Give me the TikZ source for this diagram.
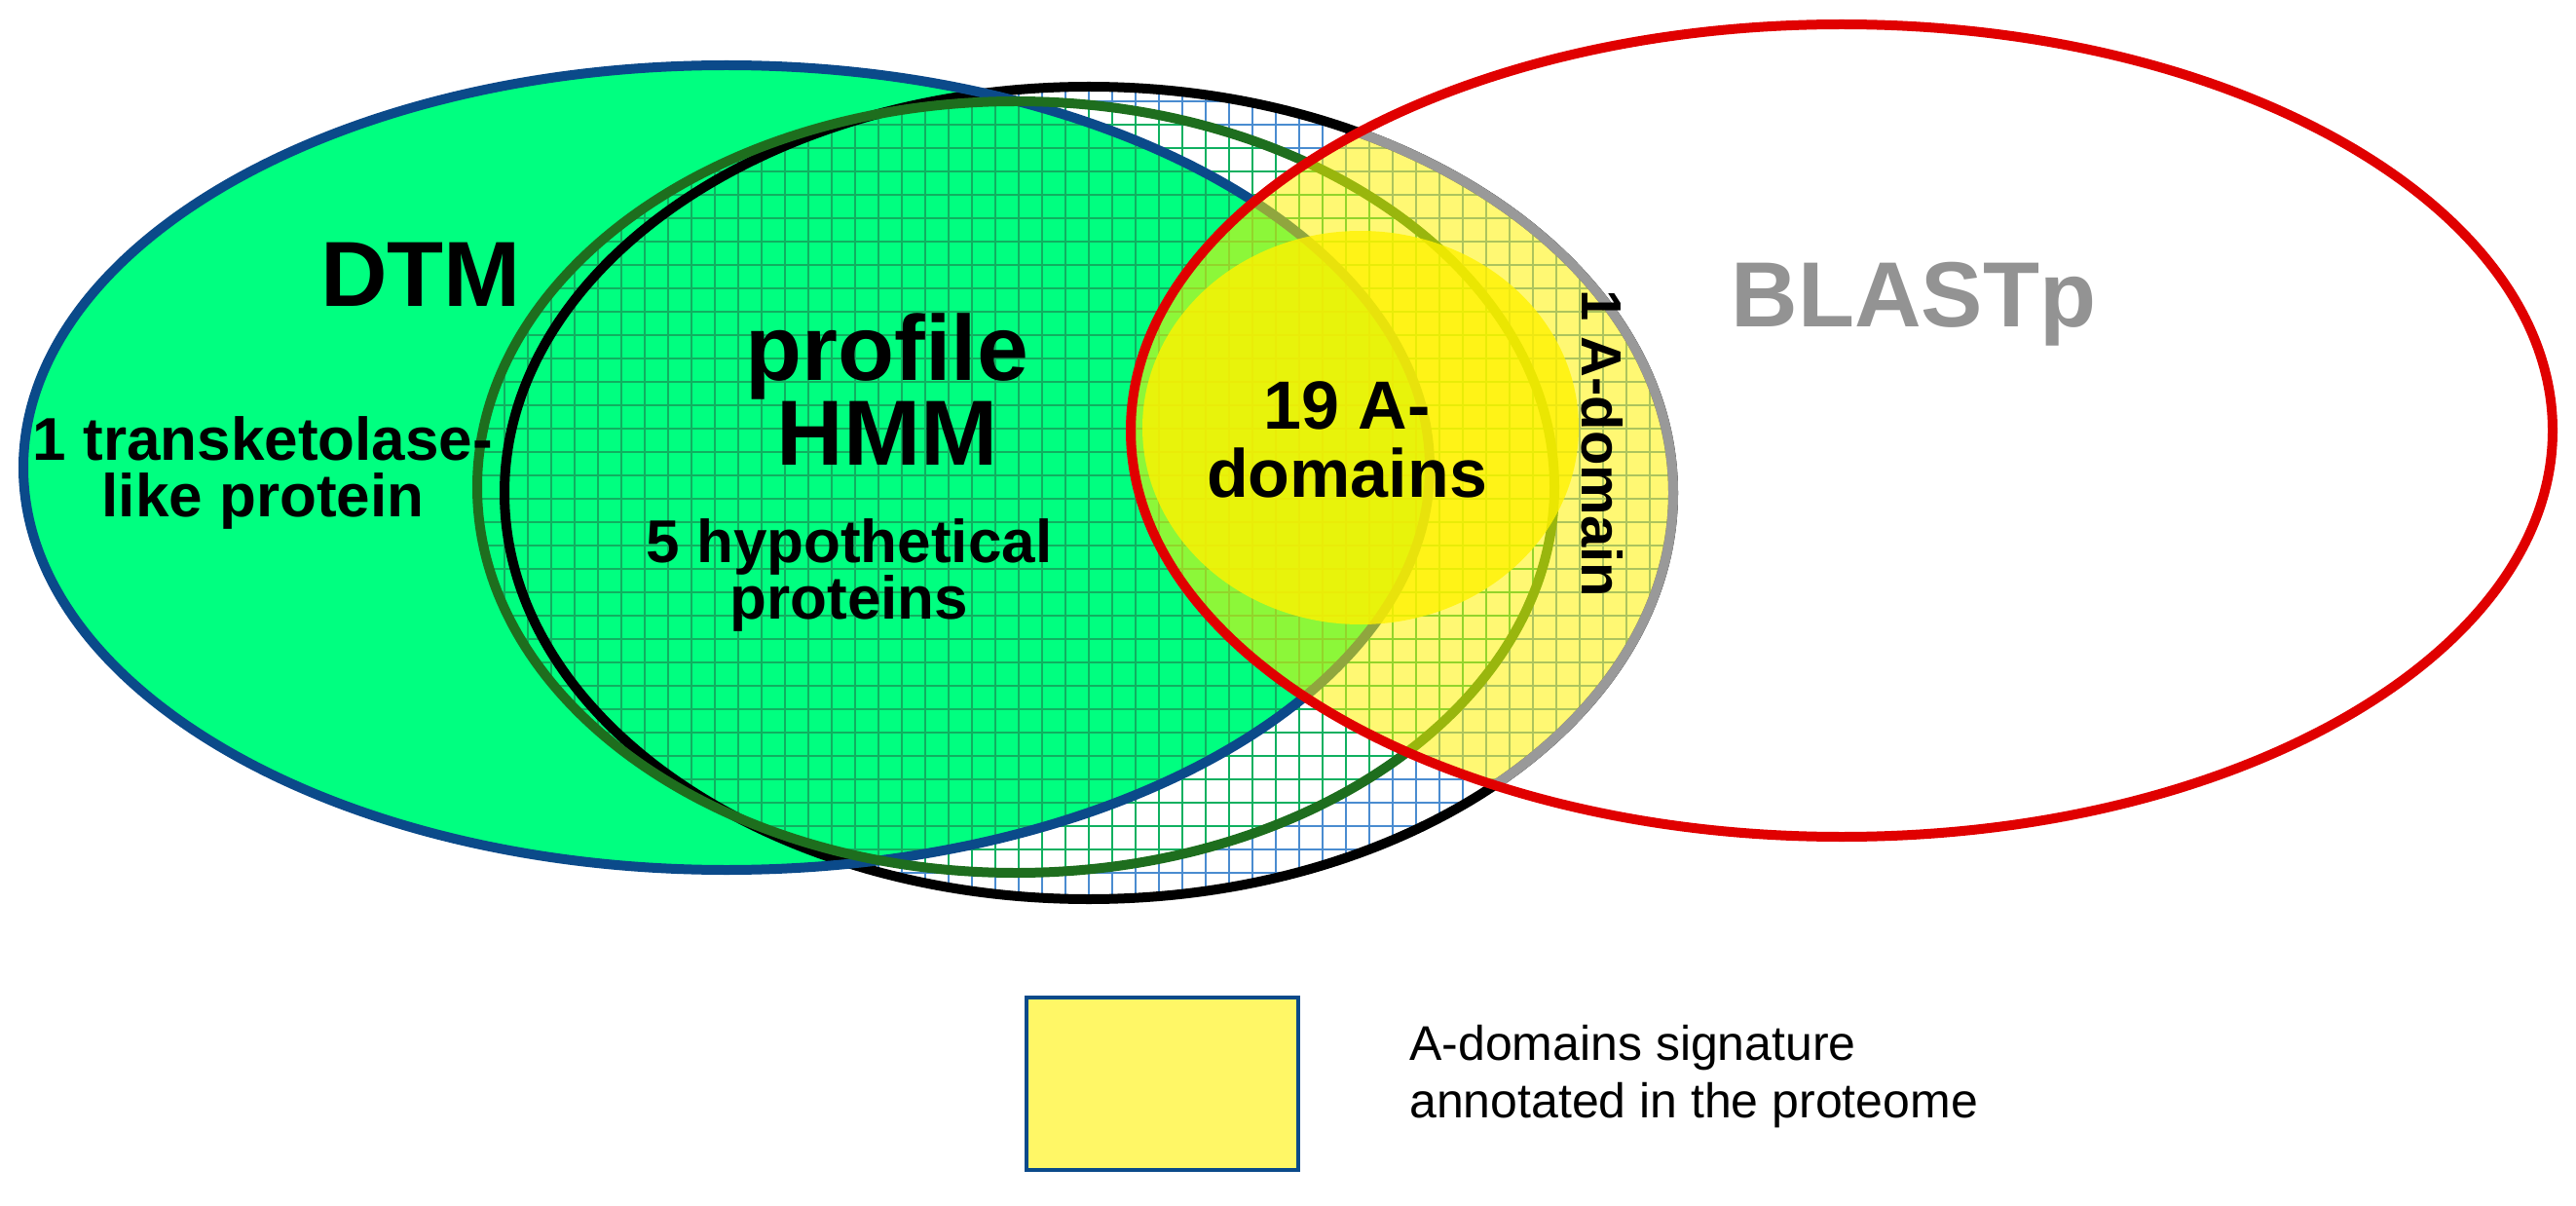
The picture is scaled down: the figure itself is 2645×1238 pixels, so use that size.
\documentclass[tikz,border=0pt]{standalone}
\usepackage{fontspec}
\setmainfont{Liberation Sans}
\begin{document}
\begin{tikzpicture}[x=1pt,y=-1pt,
  lbl/.style={font=\bfseries\fontsize{#1}{#1}\selectfont,align=center,inner sep=0pt},
  lbl/.default=62]
\useasboundingbox (0,0) rectangle (2645,1238);
\definecolor{dtmg}{HTML}{00FF80}
\definecolor{dtmb}{HTML}{0B4A8A}
\definecolor{hmmg}{HTML}{1E6E1E}
\definecolor{gridb}{HTML}{4A8CD0}
\definecolor{gridg}{HTML}{10B060}
\definecolor{redc}{HTML}{E00000}
\def\dtm{(746,480) ellipse [x radius=722,y radius=413]}
\def\blk{(1118,506) ellipse [x radius=600,y radius=417]}
\def\hmm{(1043,500) ellipse [x radius=553,y radius=396]}
\def\red{(1891,442) ellipse [x radius=730,y radius=417]}
\def\gridlines{%
  \foreach \gx in {470,494,...,1730} {\draw (\gx,80) -- (\gx,940);}
  \foreach \gy in {80,104,...,940} {\draw (470,\gy) -- (1730,\gy);}}
% blue grid inside black ellipse
\begin{scope}
  \clip \blk;
  \begin{scope}[gridb,line width=2.5]\gridlines\end{scope}
\end{scope}
\fill[dtmg] \dtm;
\begin{scope}
  \clip \blk; \clip \dtm;
  \begin{scope}[gridg,line width=2.5]\gridlines\end{scope}
\end{scope}
\begin{scope}
  \clip \hmm;
  \begin{scope}[gridg,line width=2.5]\gridlines\end{scope}
\end{scope}
% outlines
\draw[black,line width=10] \blk;
\draw[dtmb,line width=10] \dtm;
\draw[hmmg,line width=10] \hmm;
% yellow overlays
\begin{scope}
  \clip \red;
  \fill[yellow,opacity=0.55] \blk;
  \draw[gray!80,line width=10] \blk;
\end{scope}
\fill[yellow,opacity=0.8] (1397,439) ellipse [x radius=224,y radius=202];
\draw[redc,line width=10] \red;
% labels
\node[lbl=95] (dtm) at (432,282) {DTM};
\node[lbl=62] (tk) at (270,485) {1 transketolase-\\[-4pt]like protein};
\node[lbl=95] (ph) at (911,400) {profile\\[-8pt]HMM};
\node[lbl=62] (hp) at (872,590) {5 hypothetical\\[-4pt]proteins};
\node[lbl=70] (ad) at (1383,451) {19 A-\\[0pt]domains};
\node[lbl=58,rotate=-90] (one) at (1645,455) {1 A-domain};
\node[lbl=95,text=gray!85] (bl) at (1965,312) {BLASTp};
% legend
\node[draw=dtmb,line width=4,fill=yellow!60,minimum width=279,minimum height=177,inner sep=0pt] (leg) at (1193.5,1112.5) {};
\node[anchor=west,align=left,font=\fontsize{50}{59}\selectfont,inner sep=0pt] (legt) at (1447,1105) {A-domains signature\\annotated in the proteome};
\end{tikzpicture}
\end{document}
